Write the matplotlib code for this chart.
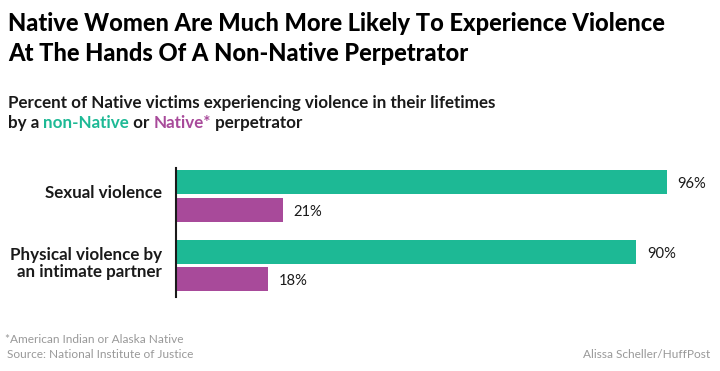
import numpy as np
import matplotlib.pyplot as plt

categories = ['Sexual violence', 'Physical violence by\nan intimate partner']
non_native = [96, 90]
native = [21, 18]

GREEN = '#1db995'
PURPLE = '#a84a9a'
DARK = '#1a1a1a'
GREY = '#999999'
FONT = ['Lato', 'DejaVu Sans']


def fit_size(fig, renderer, s, target_px, **kw):
    '''font size that makes text s about target_px wide'''
    t = fig.text(0, 0, s, fontsize=20, **kw)
    w = t.get_window_extent(renderer).width
    t.remove()
    return 20 * target_px / w


def main():
    fig = plt.figure(figsize=(7.2, 3.71), dpi=100)
    W, H = 720, 371
    r = fig.canvas.get_renderer()

    def fx(px):
        return px / W

    def fy(py):
        return 1 - py / H

    # title
    title_kw = dict(family=FONT, fontweight=900, color='black')
    title1 = 'Native Women Are Much More Likely To Experience Violence'
    title2 = 'At The Hands Of A Non-Native Perpetrator'
    ts = fit_size(fig, r, title1, 659, **title_kw)
    fig.text(fx(8), fy(31), title1, fontsize=ts, va='baseline', **title_kw)
    fig.text(fx(8), fy(61), title2, fontsize=ts, va='baseline', **title_kw)

    # subtitle
    sub_kw = dict(family=FONT, fontweight='bold')
    sub1 = 'Percent of Native victims experiencing violence in their lifetimes'
    ss = fit_size(fig, r, sub1, 487, **sub_kw)
    fig.text(fx(8), fy(108), sub1, fontsize=ss, va='baseline', color=DARK, **sub_kw)
    parts = [('by a ', DARK), ('non-Native', GREEN), (' or ', DARK), ('Native*', PURPLE), (' perpetrator', DARK)]
    x = 8
    for s, c in parts:
        tt = fig.text(fx(x), fy(128), s, fontsize=ss, va='baseline', color=c, **sub_kw)
        x = tt.get_window_extent(r).x1

    # bars
    ax = fig.add_axes([fx(176), fy(297), (687.5 - 176) / W, (297 - 168) / H])
    y = np.arange(len(categories))
    h = 0.345
    off = 0.2
    ax.barh(y - off, non_native, height=h, color=GREEN)
    ax.barh(y + off, native, height=h, color=PURPLE)

    val_kw = dict(family=FONT, fontweight='normal')
    vs = fit_size(fig, r, '96%', 29, **val_kw)
    for i in range(len(categories)):
        ax.annotate(f'{non_native[i]}%', xy=(non_native[i], y[i] - off), xytext=(7.5, -4.3),
                    textcoords='offset points', va='baseline', ha='left', fontsize=vs,
                    color=DARK, **val_kw)
        ax.annotate(f'{native[i]}%', xy=(native[i], y[i] + off), xytext=(7.5, -4.3),
                    textcoords='offset points', va='baseline', ha='left', fontsize=vs,
                    color=DARK, **val_kw)

    lab_kw = dict(family=FONT, fontweight='bold')
    ls = fit_size(fig, r, 'Physical violence by', 152, **lab_kw)
    ax.annotate(categories[0], xy=(0, y[0]), xycoords=('axes fraction', 'data'),
                xytext=(-10, -1.5), textcoords='offset points', ha='right', va='baseline',
                fontsize=ls, color=DARK, **lab_kw)
    ax.annotate(categories[1], xy=(0, y[1]), xycoords=('axes fraction', 'data'),
                xytext=(-10, -8.3), textcoords='offset points', ha='right', va='baseline',
                fontsize=ls, color=DARK, linespacing=1.05, **lab_kw)

    ax.set_xlim(0, 100)
    ax.set_ylim(1.453, -0.403)
    ax.set_xticks([])
    ax.set_yticks([])
    for sp in ['top', 'right', 'bottom']:
        ax.spines[sp].set_visible(False)
    ax.spines['left'].set_linewidth(1.5)
    ax.spines['left'].set_color(DARK)
    ax.patch.set_alpha(0)

    # footer
    foot_kw = dict(family=FONT, fontweight='normal', color=GREY)
    fs = fit_size(fig, r, 'Source: National Institute of Justice', 187, **foot_kw)
    fig.text(fx(5), fy(343), '*American Indian or Alaska Native', fontsize=fs, va='baseline', **foot_kw)
    fig.text(fx(7), fy(358), 'Source: National Institute of Justice', fontsize=fs, va='baseline', **foot_kw)
    fig.text(fx(710), fy(358), 'Alissa Scheller/HuffPost', fontsize=fs, va='baseline', ha='right', **foot_kw)

    fig.savefig('out.png', dpi=100)


if __name__ == "__main__":
    main()
